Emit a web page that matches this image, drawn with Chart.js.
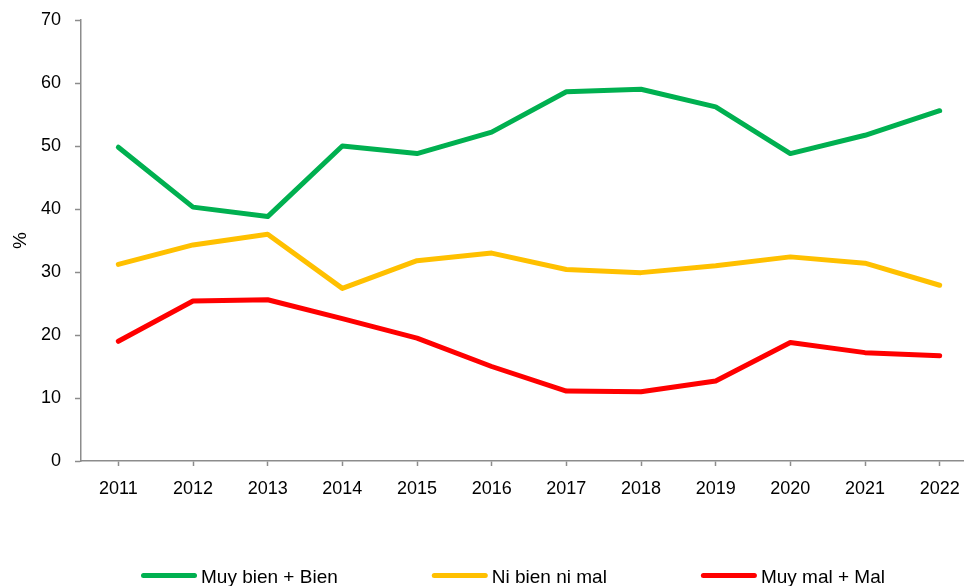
<!DOCTYPE html>
<html>
<head>
<meta charset="utf-8">
<script src="https://cdn.jsdelivr.net/npm/chart.js@4.4.1/dist/chart.umd.min.js"></script>
<style>
  html, body { margin: 0; padding: 0; background: #ffffff; overflow: hidden; }
  #wrap { position: relative; width: 980px; height: 586px; }
</style>
</head>
<body>
<div id="wrap"><canvas id="c"></canvas></div>
<script>
const years = ['2011','2012','2013','2014','2015','2016','2017','2018','2019','2020','2021','2022'];
const muyBienBien = [49.8, 40.3, 38.8, 50.0, 48.8, 52.2, 58.6, 59.0, 56.2, 48.8, 51.7, 55.6];
const niBienNiMal = [31.2, 34.3, 36.0, 27.4, 31.8, 33.0, 30.4, 29.9, 31.0, 32.4, 31.4, 27.9];
const muyMalMal   = [19.0, 25.4, 25.6, 22.6, 19.5, 15.0, 11.1, 11.0, 12.7, 18.8, 17.2, 16.7];
const seriesLabels = ['Muy bien + Bien', 'Ni bien ni mal', 'Muy mal + Mal'];
const yTicks = [0, 10, 20, 30, 40, 50, 60, 70];
const yTitle = '%';

const FONT = "'Liberation Sans', Arial, sans-serif";
const AXIS = '#8c8c8c';

const lineLegend = {
  id: 'lineLegend',
  afterDraw(chart, args, o) {
    const ctx = chart.ctx;
    ctx.save();
    ctx.font = o.fontSize + 'px ' + FONT;
    ctx.textBaseline = 'alphabetic';
    ctx.textAlign = 'left';
    let x = o.startX;
    chart.data.datasets.forEach(ds => {
      ctx.strokeStyle = ds.borderColor;
      ctx.lineWidth = o.lineWidth;
      ctx.lineCap = 'round';
      ctx.beginPath();
      ctx.moveTo(x + o.lineWidth / 2, o.lineY);
      ctx.lineTo(x + o.lineLength - o.lineWidth / 2, o.lineY);
      ctx.stroke();
      ctx.fillStyle = o.color;
      const tx = x + o.lineLength + o.textGap;
      ctx.fillText(ds.label, tx, o.textY);
      x = tx + ctx.measureText(ds.label).width + o.itemGap;
    });
    ctx.restore();
  }
};

const mk = (label, data, color) => ({
  label, data,
  borderColor: color,
  backgroundColor: color,
  borderWidth: 5,
  borderCapStyle: 'round',
  borderJoinStyle: 'round',
  pointRadius: 0,
  pointHoverRadius: 0,
  tension: 0,
  fill: false
});

new Chart(document.getElementById('c'), {
  type: 'line',
  data: {
    labels: years,
    datasets: [
      mk(seriesLabels[0], muyBienBien, '#00B050'),
      mk(seriesLabels[1], niBienNiMal, '#FFC000'),
      mk(seriesLabels[2], muyMalMal, '#FF0000')
    ]
  },
  options: {
    responsive: true,
    maintainAspectRatio: false,
    devicePixelRatio: 1,
    animation: false,
    layout: { padding: { top: 20, right: 3, bottom: 0, left: 0 } },
    plugins: {
      legend: { display: false },
      tooltip: { enabled: false },
      lineLegend: {
        startX: 141, lineLength: 56, lineWidth: 5, textGap: 4, itemGap: 94,
        lineY: 575.5, textY: 583, fontSize: 19, color: '#000000'
      }
    },
    scales: {
      x: {
        type: 'category',
        offset: true,
        grid: {
          offset: false,
          drawOnChartArea: false,
          drawTicks: true,
          tickLength: 5,
          tickWidth: 1.5,
          tickColor: AXIS
        },
        border: { display: true, color: AXIS, width: 1.5 },
        ticks: {
          color: '#000000',
          font: { family: FONT, size: 18 },
          padding: 12,
          maxRotation: 0,
          autoSkip: false
        },
        afterFit(scale) { scale.height = 125; scale.paddingLeft = 0; scale.paddingRight = 0; }
      },
      y: {
        min: 0, max: 70,
        grid: {
          drawOnChartArea: false,
          drawTicks: true,
          tickLength: 6,
          tickWidth: 1.5,
          tickColor: AXIS
        },
        border: { display: true, color: AXIS, width: 1.5 },
        afterBuildTicks(scale) { scale.ticks = yTicks.map(v => ({ value: v })); },
        ticks: {
          color: '#000000',
          font: { family: FONT, size: 18 },
          padding: 14
        },
        title: {
          display: true,
          text: yTitle,
          color: '#000000',
          font: { family: FONT, size: 19 },
          padding: { top: 9, bottom: 0 }
        },
        afterFit(scale) { scale.width = 81; scale.paddingTop = 0; scale.paddingBottom = 0; }
      }
    }
  },
  plugins: [lineLegend]
});
</script>
</body>
</html>
